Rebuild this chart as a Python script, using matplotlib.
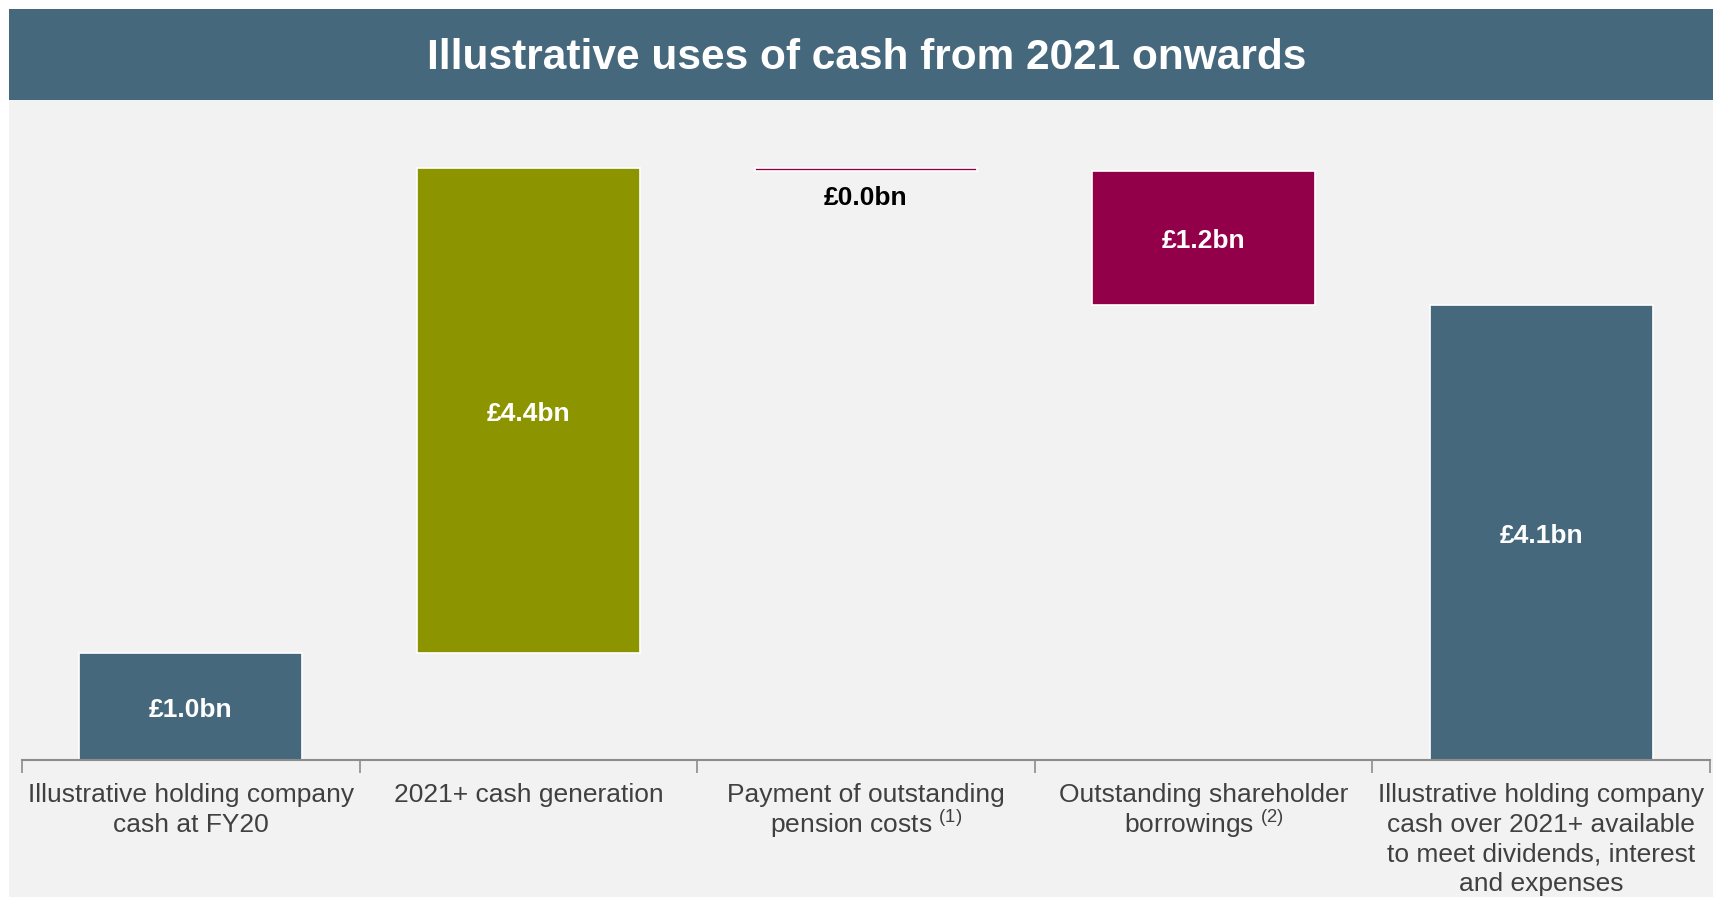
import matplotlib.pyplot as plt
from matplotlib.patches import Rectangle

plt.rcParams['font.family'] = ['Liberation Sans', 'DejaVu Sans']
plt.rcParams['mathtext.fontset'] = 'custom'
plt.rcParams['mathtext.rm'] = 'Liberation Sans'
plt.rcParams['mathtext.it'] = 'Liberation Sans:italic'
plt.rcParams['mathtext.bf'] = 'Liberation Sans:bold'

categories = [
    'Illustrative holding company\ncash at FY20',
    '2021+ cash generation',
    'Payment of outstanding\npension costs $^{\\rm (1)}$',
    'Outstanding shareholder\nborrowings $^{\\rm (2)}$',
    'Illustrative holding company\ncash over 2021+ available\nto meet dividends, interest\nand expenses',
]
# £bn; totals start from zero, steps float on the running total
values = [0.97, 4.40, -0.03, -1.22, 4.12]
kinds = ['total', 'step', 'step', 'step', 'total']
colors = ['#45687D', '#8C9400', '#93004A', '#93004A', '#45687D']

W, H = 1713, 897
fig = plt.figure(figsize=(W / 100, H / 100), dpi=100)
fig.patch.set_facecolor('white')

# grey panel and title band
fig.add_artist(Rectangle((9 / W, 0), 1, 1 - 100 / H, transform=fig.transFigure,
                         facecolor='#F2F2F2', edgecolor='none', zorder=0))
fig.add_artist(Rectangle((9 / W, 1 - 100 / H), 1, 91 / H, transform=fig.transFigure,
                         facecolor='#45687D', edgecolor='none', zorder=0))
fig.text(867 / W, 1 - 58 / H, 'Illustrative uses of cash from 2021 onwards',
         ha='center', va='center', color='white', fontsize=30.5, fontweight='bold')

ax = fig.add_axes([22 / W, 137 / H, 1688 / W, 662 / H])
ax.patch.set_visible(False)

x = list(range(len(values)))
bottoms, heights = [], []
running = 0.0
for v, k in zip(values, kinds):
    if k == 'total':
        bottoms.append(0.0)
        heights.append(v)
        running = v
    else:
        bottoms.append(running if v > 0 else running + v)
        heights.append(abs(v))
        running += v

ax.bar(x, heights, bottom=bottoms, width=0.66, color=colors,
       edgecolor='white', linewidth=1.2, zorder=2)

for i, (v, b, h) in enumerate(zip(values, bottoms, heights)):
    label = '£{:.1f}bn'.format(abs(v))
    if h < 0.2:
        ax.text(i, b - 0.25, label, ha='center', va='center',
                fontsize=19, fontweight='bold', color='black')
    else:
        ax.text(i, b + h / 2 - 0.03, label, ha='center', va='center',
                fontsize=19, fontweight='bold', color='white', zorder=3)

ax.set_xlim(-0.5, 4.5)
ax.set_ylim(0, 6)
for s in ['top', 'left', 'right']:
    ax.spines[s].set_visible(False)
ax.spines['bottom'].set_color('#8C8C8C')
ax.spines['bottom'].set_linewidth(1.5)
ax.set_yticks([])
ax.set_xticks(x)
ax.set_xticklabels(categories, fontsize=19, color='#404040', linespacing=1.3)
# lines with superscripts come out taller, so tighten those labels
for lbl in ax.get_xticklabels():
    if '$' in lbl.get_text():
        lbl.set_linespacing(1.05)
ax.tick_params(axis='x', which='major', length=0, pad=16.5)
ax.set_xticks([i - 0.5 for i in range(len(values) + 1)], minor=True)
ax.tick_params(axis='x', which='minor', length=9, width=1.2, color='#8C8C8C')

fig.savefig('out.png', dpi=100, facecolor='white')
